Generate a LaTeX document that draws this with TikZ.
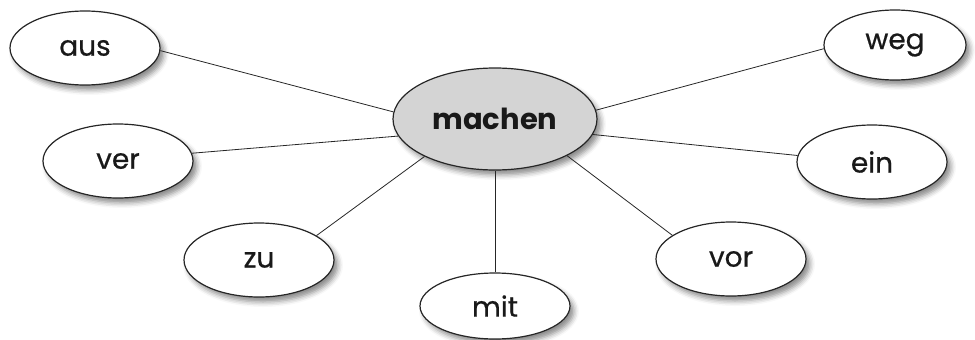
\documentclass[tikz,border=0pt]{standalone}
\usepackage{fontspec}
\setmainfont{Poppins}[UprightFeatures={FakeBold=0.6}]
\usetikzlibrary{shapes.geometric,shadows.blur}
\tikzset{
  bub/.style={ellipse, draw=black!85, line width=1.2pt, fill=white, inner sep=0pt,
    minimum width=150pt, minimum height=74pt, font=\fontsize{28}{28}\selectfont, text=black!90,
    blur shadow={shadow xshift=4pt, shadow yshift=-5pt, shadow blur radius=5pt, shadow opacity=45}},
  hub/.style={bub, fill=black!17, minimum width=204pt, minimum height=102pt,
    font=\fontsize{29}{29}\selectfont\bfseries},
  link/.style={draw=black!85, line width=0.8pt}
}
\begin{document}
\begin{tikzpicture}[x=1pt,y=-1pt]
\useasboundingbox (0,0) rectangle (975,340);
\node[hub] (machen) at (495,119) {machen};
\node[bub] (aus) at (85,48) {aus};
\node[bub, minimum width=142pt, minimum height=70pt] (weg) at (895,45) {weg};
\node[bub] (ver) at (118,161) {ver};
\node[bub] (ein) at (872,162) {ein};
\node[bub] (zu) at (259,260) {zu};
\node[bub] (vor) at (731,259) {vor};
\node[bub, minimum height=66pt] (mit) at (495,306) {mit};
\draw[link] (aus.358) -- (machen.176);
\draw[link] (ver.6) -- (machen.190);
\draw[link] (zu.23) -- (machen.208);
\draw[link] (mit.90) -- (machen.270);
\draw[link] (vor.158) -- (machen.333);
\draw[link] (ein.175) -- (machen.351);
\draw[link] (weg.183) -- (machen.5);
\end{tikzpicture}
\end{document}
